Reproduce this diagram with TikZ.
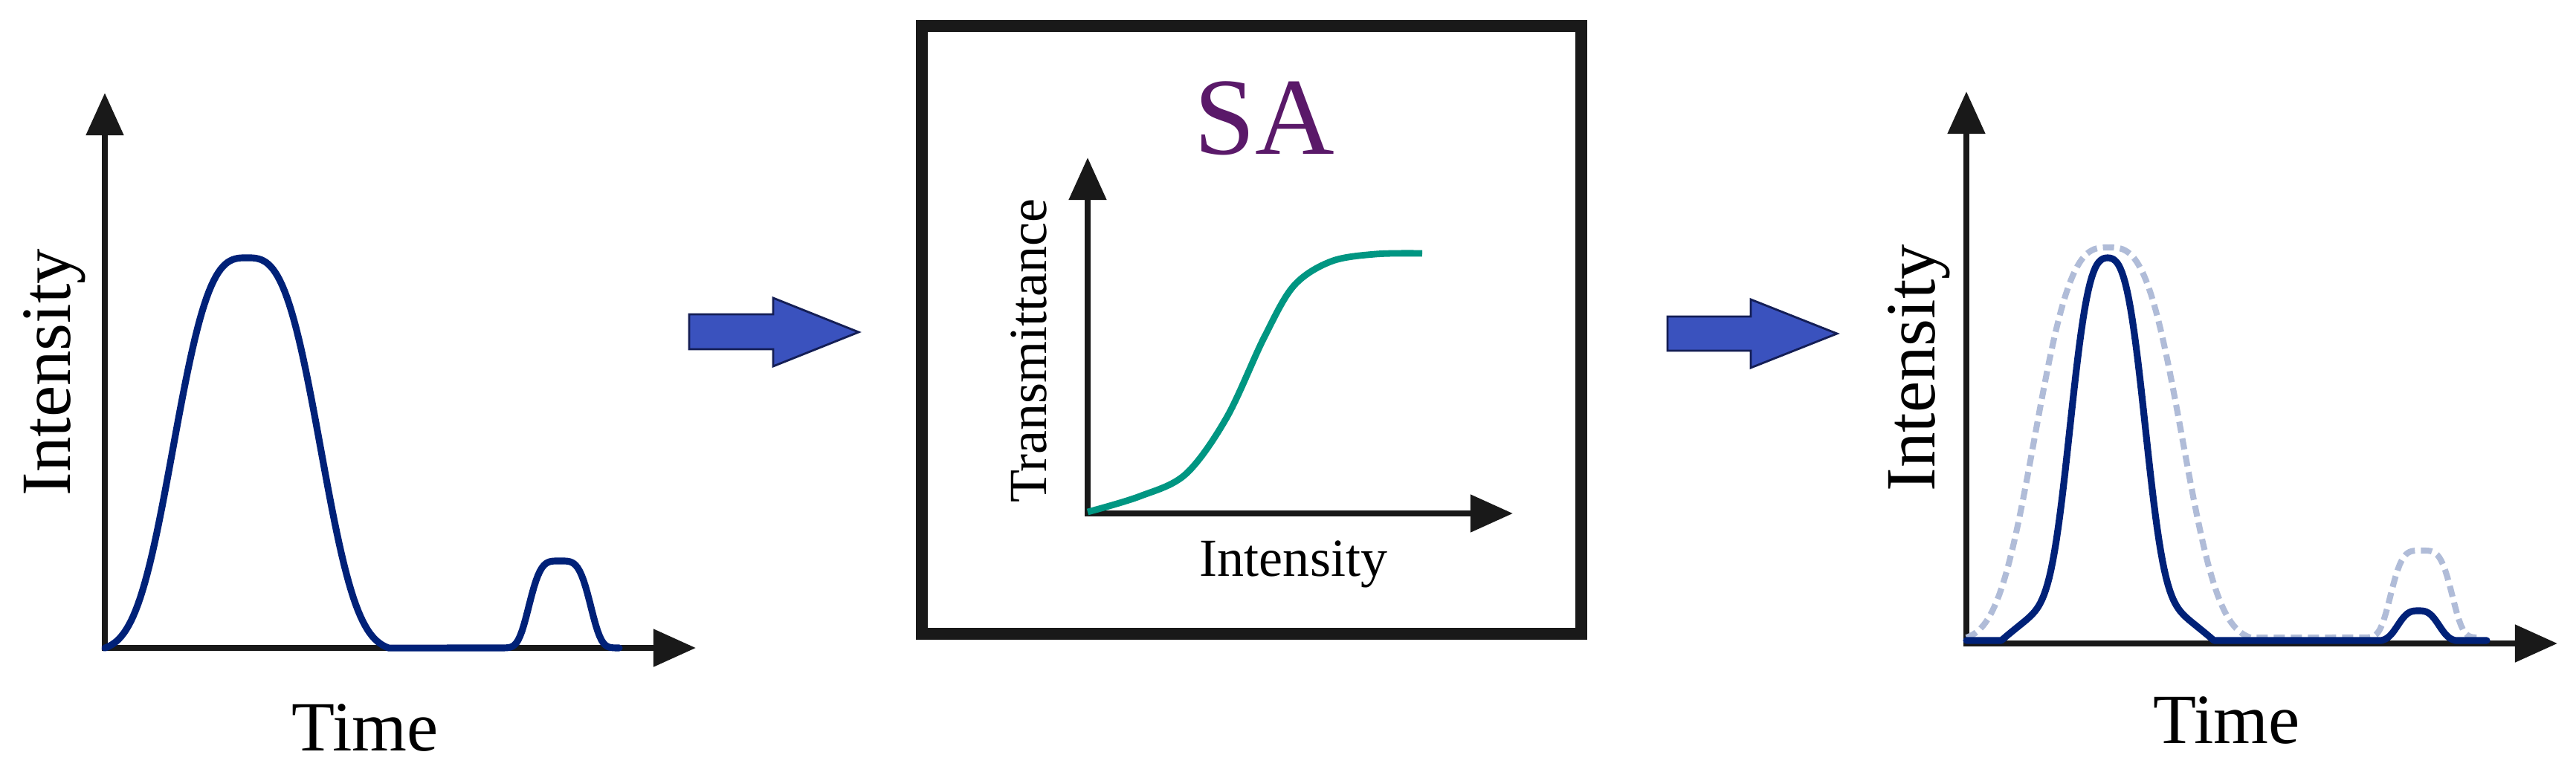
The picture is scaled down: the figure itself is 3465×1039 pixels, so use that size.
\documentclass[tikz,border=0pt]{standalone}
\usepackage{fontspec}
\setmainfont{Liberation Serif}
\usetikzlibrary{arrows.meta}
\definecolor{navyline}{RGB}{0,33,120}
\definecolor{ghostblue}{RGB}{176,188,216}
\definecolor{tealline}{RGB}{0,150,130}
\definecolor{salabel}{RGB}{90,25,105}
\definecolor{arrowblue}{RGB}{58,82,190}
\definecolor{arrowedge}{RGB}{20,30,85}
\definecolor{axisblack}{RGB}{25,25,25}
\tikzset{declare function={
  sgbig(\u)=(exp(-((abs(\u)+0.01)/114)^3)-0.0093)/0.9907;
  sgsmall(\u)=exp(-((abs(\u)+0.01)/45)^4);
  gout(\u)=0.84*exp(-((abs(\u)+0.01)/58)^3)+0.16*max(0,1-((abs(\u)+0.01)/143)^1.5);
  gsm(\u)=(exp(-((abs(\u)+0.01)/32)^3)-0.022)/0.978;
}}
\newcommand\pulsein{plot[domain=-191:191,samples=121,variable=\u] ({191+\u},{-525*sgbig(\u)}) -- plot[domain=-80:80,samples=61,variable=\u] ({612+\u},{-117*sgsmall(\u)})}
\newcommand\pulseout{(0,0) -- plot[domain=-143:143,samples=121,variable=\u] ({190+\u},{-515*gout(\u)}) -- plot[domain=-50:50,samples=51,variable=\u] ({608+\u},{-40*gsm(\u)}) -- (700,0)}
\begin{document}
\begin{tikzpicture}[x=0.01cm,y=-0.01cm,
  axis/.style={line width=2.3pt, draw=axisblack, {Triangle[length=0.57cm,width=0.49cm]}-{Triangle[length=0.57cm,width=0.49cm]}},
  pulse/.style={line width=2.6pt, draw=navyline, line join=round, line cap=round},
  ghost/.style={line width=2.3pt, draw=ghostblue, dash pattern=on 0.15cm off 0.08cm},
  bigarrow/.style={fill=arrowblue, draw=arrowedge, line width=0.8pt},
  lab/.style={font=\fontsize{27}{30}\selectfont, inner sep=0pt, text=black},
  smalllab/.style={font=\fontsize{20.5}{24}\selectfont, inner sep=0pt, text=black}
]
\useasboundingbox[fill=white] (0,0) rectangle (3465,1039);

% ---------- left panel ----------
\coordinate (L0) at (141,872);
\coordinate (Ly) at (141,125);
\coordinate (Lx) at (936,872);
\draw[axis] (Ly) -- (L0) -- (Lx);
\begin{scope}[shift={(141,872)}]
  \draw[pulse] \pulsein;
\end{scope}
\node[lab, rotate=90, anchor=base] (lint) at (94,501) {Intensity};
\node[lab, anchor=base] (ltime) at (491,1010) {Time};

% ---------- block arrow 1 ----------
\draw[bigarrow] (927,423) -- (1040,423) -- (1040,401) -- (1155,447) -- (1040,493) -- (1040,470) -- (927,470) -- cycle;

% ---------- SA box ----------
\node[draw=axisblack, line width=4.55pt, minimum width=8.87cm, minimum height=8.18cm, inner sep=0pt] (sabox) at (1683.5,444) {};
\node[font=\fontsize{42}{46}\selectfont, text=salabel, inner sep=0pt, anchor=base] (salab) at (1701,207) {SA};
\coordinate (S0) at (1463,691);
\coordinate (Sy) at (1463,212);
\coordinate (Sx) at (2035,691);
\draw[axis] (Sy) -- (S0) -- (Sx);
\draw[line width=2.5pt, draw=tealline, line cap=butt, line join=round] plot[smooth,tension=0.55] coordinates {(1463,689) (1533,668) (1595,638) (1650,562) (1700,455) (1740,385) (1790,352) (1850,342) (1913,341)};
\node[smalllab, rotate=90, anchor=base] (trans) at (1407,472) {Transmittance};
\node[smalllab, anchor=base] (sint) at (1740,775) {Intensity};

% ---------- block arrow 2 ----------
\draw[bigarrow] (2243,426) -- (2355,426) -- (2355,403) -- (2471,449) -- (2355,495) -- (2355,472) -- (2243,472) -- cycle;

% ---------- right panel ----------
\coordinate (R0) at (2645,866);
\coordinate (Ry) at (2645,123);
\coordinate (Rx) at (3440,866);
\draw[axis] (Ry) -- (R0) -- (Rx);
\begin{scope}[shift={(2645,858)}]
  \draw[ghost] \pulsein;
\end{scope}
\begin{scope}[shift={(2645,862)}]
  \draw[pulse] \pulseout;
\end{scope}
\node[lab, rotate=90, anchor=base] (rint) at (2602,495) {Intensity};
\node[lab, anchor=base] (rtime) at (2995,1000) {Time};
\end{tikzpicture}
\end{document}
